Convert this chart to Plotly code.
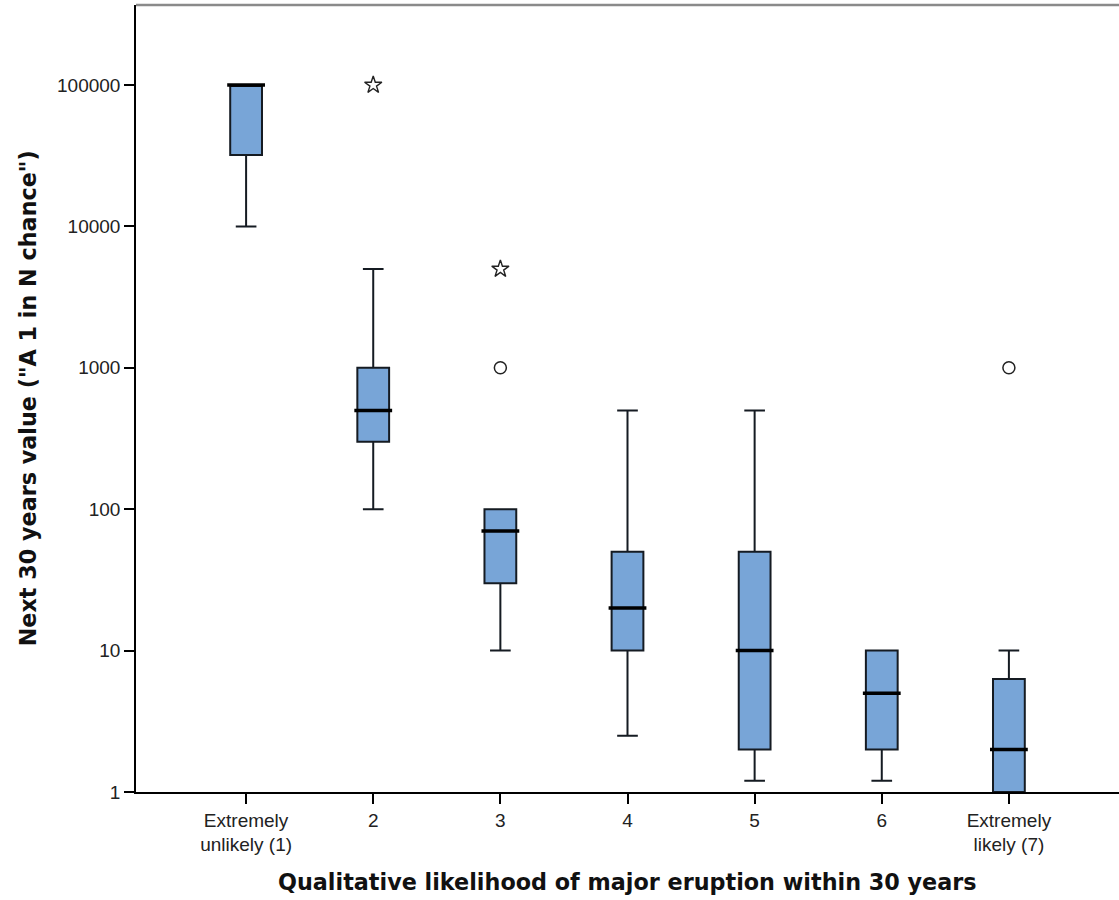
import plotly.graph_objects as go

# ---- data ----
categories = [1, 2, 3, 4, 5, 6, 7]
cat_labels = ["Extremely<br>unlikely (1)", "2", "3", "4", "5", "6", "Extremely<br>likely (7)"]
lower_whisker = [10000, 100, 10, 2.5, 1.2, 1.2, 1]
q1 = [32000, 300, 30, 10, 2, 2, 1]
median = [100000, 500, 70, 20, 10, 5, 2]
q3 = [100000, 1000, 100, 50, 50, 10, 6.3]
upper_whisker = [100000, 5000, 100, 500, 500, 10, 10]

outlier_x = [3, 7]
outlier_y = [1000, 1000]
extreme_x = [2, 3]
extreme_y = [100000, 5000]

y_tickvals = [1, 10, 100, 1000, 10000, 100000]
y_ticktext = ["1", "10", "100", "1000", "10000", "100000"]

BOX_FILL = "#78A5D7"
EDGE = "#151b22"

fig = go.Figure()
fig.add_trace(go.Box(
    x=categories, q1=q1, median=median, q3=q3,
    lowerfence=lower_whisker, upperfence=upper_whisker,
    fillcolor=BOX_FILL, line=dict(color=EDGE, width=2),
    width=0.25, whiskerwidth=0.65, boxpoints=False, showlegend=False,
    hoverinfo="skip",
))
# thick median bars
fig.add_trace(go.Scatter(
    x=categories, y=median, mode="markers",
    marker=dict(symbol="line-ew", size=27, line=dict(color="black", width=3.5)),
    showlegend=False, hoverinfo="skip",
))
# outliers (circles) and extremes (stars)
fig.add_trace(go.Scatter(
    x=outlier_x, y=outlier_y, mode="markers",
    marker=dict(symbol="circle-open", size=12, line=dict(color="#222", width=1.5), color="#222"),
    showlegend=False,
))
fig.add_trace(go.Scatter(
    x=extreme_x, y=extreme_y, mode="markers",
    marker=dict(symbol="star-open", size=13, line=dict(color="#222", width=1.4), color="#222"),
    showlegend=False,
))

tick_font = dict(family="Liberation Sans, Arial, sans-serif", size=19, color="#222")
title_font = dict(family="DejaVu Sans, Verdana, sans-serif", size=22.3, color="#111")

fig.update_layout(
    width=1119, height=900,
    margin=dict(l=136, r=0, t=5, b=108),
    paper_bgcolor="white", plot_bgcolor="white",
    xaxis=dict(
        range=[0.134, 7.866], tickvals=categories, ticktext=cat_labels,
        showline=True, linecolor="black", linewidth=1.5,
        ticks="outside", ticklen=10, tickcolor="black", tickwidth=1.5,
        showgrid=False, zeroline=False, tickfont=tick_font,
    ),
    yaxis=dict(
        type="log", range=[0, 5.566], tickvals=y_tickvals, ticktext=y_ticktext,
        showline=True, linecolor="black", linewidth=1.5,
        ticks="outside", ticklen=10, tickcolor="black", tickwidth=1.5,
        showgrid=False, zeroline=False, tickfont=tick_font,
    ),
    shapes=[dict(type="line", xref="paper", yref="paper", x0=0, x1=1, y0=1, y1=1,
                 line=dict(color="#8a8a8a", width=2.5))],
    annotations=[
        dict(text="<b>Qualitative likelihood of major eruption within 30 years</b>",
             xref="paper", yref="paper", x=0.5, y=-0.114, xanchor="center", yanchor="middle",
             showarrow=False, font=title_font),
        dict(text="<b>Next 30 years value (\"A 1 in N chance\")</b>",
             xref="paper", yref="paper", x=-0.11, y=0.5, xanchor="center", yanchor="middle",
             textangle=-90, showarrow=False, font=title_font),
    ],
)

fig.write_html("out.html")
